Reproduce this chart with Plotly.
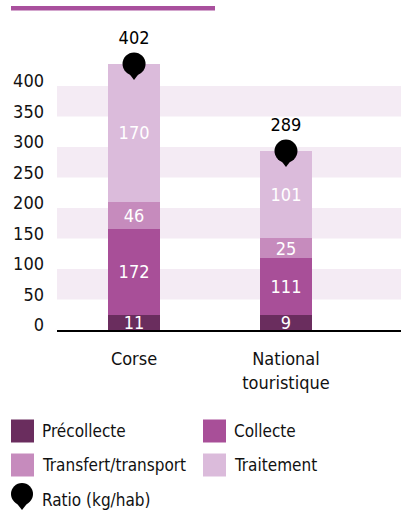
import plotly.graph_objects as go

# categories and series (bar heights as drawn, labels as printed)
categories = ["Corse", "National<br>touristique"]
series_names = ["Précollecte", "Collecte", "Transfert/transport", "Traitement"]
series_colors = ["#6a2d5e", "#a84f98", "#c68bbd", "#dbbbdb"]
precollecte = [24.6, 24.6]
collecte = [141.0, 93.9]
transfert = [44.7, 31.8]
traitement = [225.8, 143.1]
precollecte_lbl = ["11", "9"]
collecte_lbl = ["172", "111"]
transfert_lbl = ["46", "25"]
traitement_lbl = ["170", "101"]
ratio_lbl = ["402", "289"]
y_ticks = [0, 50, 100, 150, 200, 250, 300, 350, 400]

FONT = "DejaVu Sans Condensed, Liberation Sans Narrow, Roboto, sans-serif"
W, H = 401, 517
M_L, M_R, M_T, M_B = 57, 0, 30, 187
PLOT_W = W - M_L - M_R
PLOT_H = H - M_T - M_B
Y_MAX = 491.8
PX_PER_UNIT = PLOT_H / Y_MAX


def px(x):
    return (x - M_L) / PLOT_W


def py(y):
    return (H - M_B - y) / PLOT_H


fig = go.Figure()

values = [precollecte, collecte, transfert, traitement]
labels = [precollecte_lbl, collecte_lbl, transfert_lbl, traitement_lbl]
for name, color, vals, lbl in zip(series_names, series_colors, values, labels):
    fig.add_trace(
        go.Bar(
            x=categories,
            y=vals,
            name=name,
            marker=dict(color=color, line=dict(width=0)),
            text=lbl,
            textposition="inside",
            insidetextanchor="middle",
            textangle=0,
            textfont=dict(family=FONT, size=18, color="white"),
            width=0.342,
            showlegend=False,
            hoverinfo="skip",
        )
    )

totals = [sum(v) for v in zip(*values)]
tail_offset = 8 / PX_PER_UNIT
fig.add_trace(
    go.Scatter(
        x=categories,
        y=[t - tail_offset for t in totals],
        mode="markers",
        marker=dict(symbol="triangle-down", size=16, color="black"),
        showlegend=False,
        hoverinfo="skip",
        cliponaxis=False,
    )
)
fig.add_trace(
    go.Scatter(
        x=categories,
        y=totals,
        mode="markers+text",
        marker=dict(symbol="circle", size=23, color="black"),
        text=ratio_lbl,
        textposition="top center",
        textfont=dict(family=FONT, size=18, color="black"),
        showlegend=False,
        hoverinfo="skip",
        cliponaxis=False,
    )
)

# alternating background bands
for lo, hi in zip(y_ticks[1::2], y_ticks[2::2]):
    fig.add_shape(type="rect", xref="paper", yref="y", x0=0, x1=1, y0=lo, y1=hi,
                  fillcolor="#f4ebf4", line=dict(width=0), layer="below")

# top accent line
fig.add_shape(type="rect", xref="paper", yref="paper", x0=px(11), x1=px(215),
              y0=py(10.5), y1=py(6), fillcolor="#a9509d", line=dict(width=0))

# hand-built legend
legend_items = [
    (series_names[0], series_colors[0], 11, 431),
    (series_names[1], series_colors[1], 203, 431),
    (series_names[2], series_colors[2], 11, 465),
    (series_names[3], series_colors[3], 203, 465),
]
for name, color, lx, ly in legend_items:
    fig.add_shape(type="rect", xref="paper", yref="paper",
                  xsizemode="pixel", ysizemode="pixel",
                  xanchor=px(lx), yanchor=py(ly),
                  x0=0, x1=23, y0=-11.5, y1=11.5,
                  fillcolor=color, line=dict(width=0))
    fig.add_annotation(x=px(lx + 29), y=py(ly), xref="paper", yref="paper",
                       text=name, showarrow=False, xanchor="left", yanchor="middle",
                       font=dict(family=FONT, size=17, color="#111"))

pin_x, pin_y = 22, 494
fig.add_shape(type="circle", xref="paper", yref="paper",
              xsizemode="pixel", ysizemode="pixel",
              xanchor=px(pin_x), yanchor=py(pin_y),
              x0=-11, x1=11, y0=-11, y1=11,
              fillcolor="black", line=dict(width=0))
fig.add_shape(type="path", xref="paper", yref="paper",
              xsizemode="pixel", ysizemode="pixel",
              xanchor=px(pin_x), yanchor=py(pin_y),
              path="M -9.5,-4 L 9.5,-4 L 0,-16 Z",
              fillcolor="black", line=dict(width=0))
fig.add_annotation(x=px(40), y=py(500), xref="paper", yref="paper",
                   text="Ratio (kg/hab)", showarrow=False, xanchor="left", yanchor="middle",
                   font=dict(family=FONT, size=17, color="#111"))

fig.update_layout(
    width=W,
    height=H,
    margin=dict(l=M_L, r=M_R, t=M_T, b=M_B),
    barmode="stack",
    plot_bgcolor="white",
    paper_bgcolor="white",
    showlegend=False,
    uniformtext=dict(minsize=18, mode="show"),
    font=dict(family=FONT, size=18, color="#111"),
)
fig.update_xaxes(
    range=[-0.507, 1.757],
    showgrid=False,
    showline=True,
    linecolor="black",
    linewidth=1.5,
    ticks="",
    ticklabelstandoff=12,
    tickfont=dict(family=FONT, size=18, color="#111"),
    fixedrange=True,
)
fig.update_yaxes(
    range=[0, Y_MAX],
    tickvals=y_ticks,
    showgrid=False,
    zeroline=False,
    ticks="",
    ticklabelstandoff=12,
    ticklabelshift=-5,
    tickfont=dict(family=FONT, size=18, color="#111"),
    fixedrange=True,
)

fig.write_html(
    "out.html",
    config={"displayModeBar": False},
    post_script="document.body.style.margin='0';",
)
